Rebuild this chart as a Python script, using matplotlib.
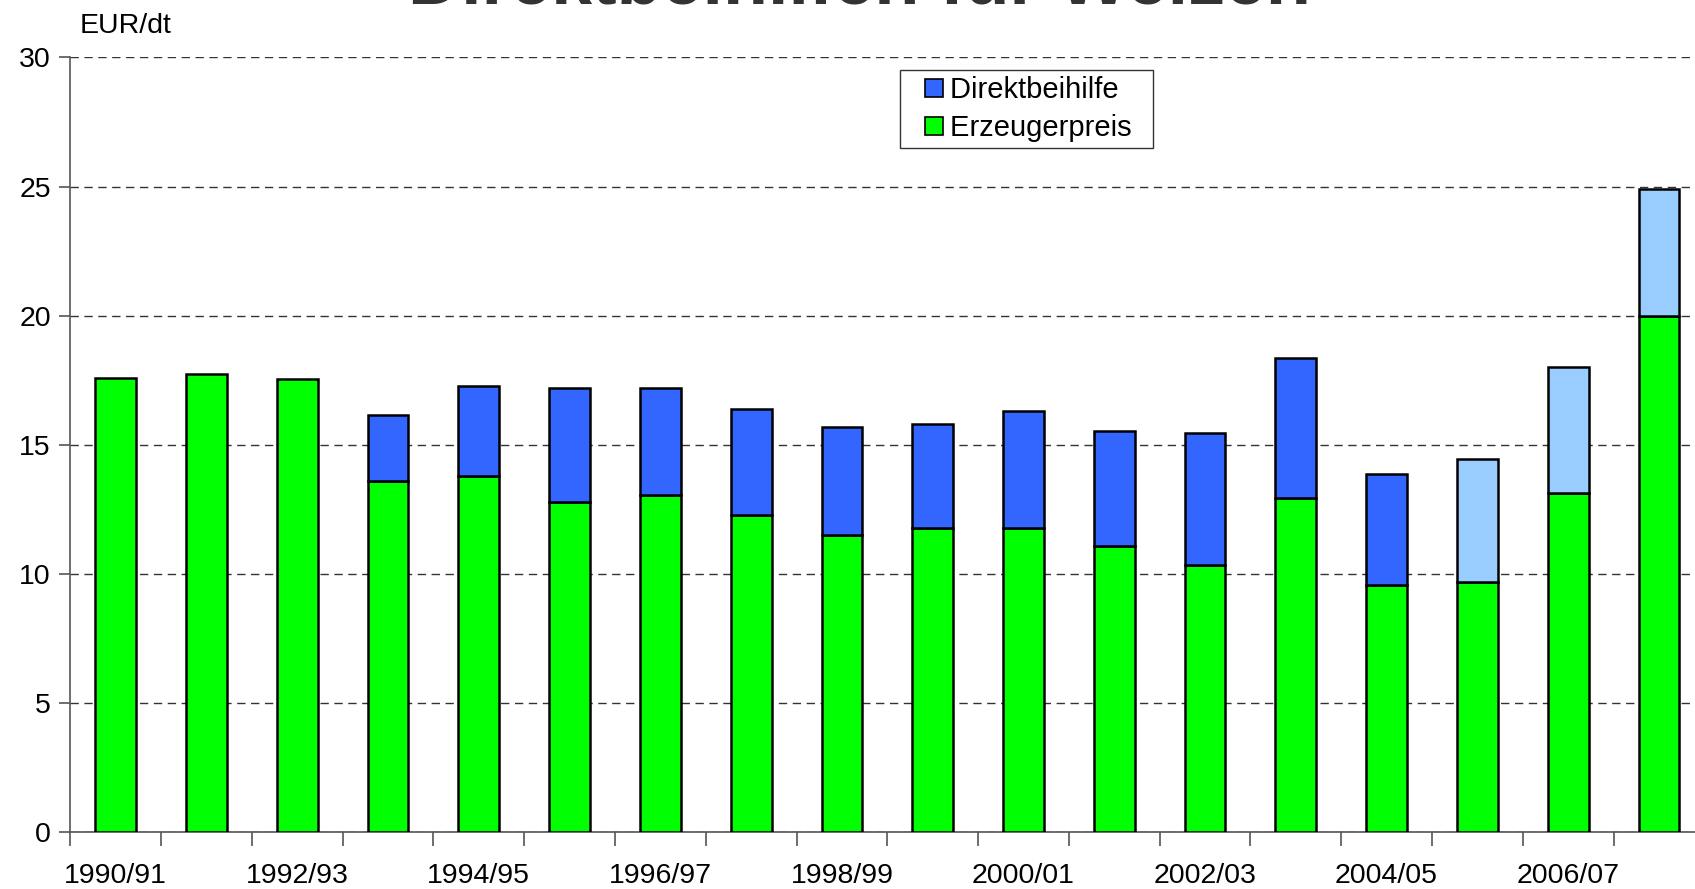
import numpy as np
import matplotlib.pyplot as plt
from matplotlib.lines import Line2D

plt.rcParams['font.family'] = ['Liberation Sans', 'DejaVu Sans']

# Wirtschaftsjahre
jahre = ["1990/91", "1991/92", "1992/93", "1993/94", "1994/95", "1995/96",
         "1996/97", "1997/98", "1998/99", "1999/00", "2000/01", "2001/02",
         "2002/03", "2003/04", "2004/05", "2005/06", "2006/07", "2007/08"]

# Erzeugerpreis (EUR/dt)
erzeugerpreis = [17.6, 17.75, 17.55, 13.6, 13.8, 12.78, 13.05, 12.27, 11.5,
                 11.8, 11.8, 11.07, 10.35, 12.93, 9.58, 9.7, 13.14, 20.0]

# Direktbeihilfe (EUR/dt), dunkel = gezahlt, hell = letzte Jahre
beihilfe = [0.0, 0.0, 0.0, 2.55, 3.48, 4.42, 4.15, 4.13, 4.2,
            4.02, 4.52, 4.45, 5.09, 5.44, 4.31, 4.74, 4.86, 4.9]
beihilfe_hell = [False] * 15 + [True, True, True]

GRUEN = "#00FF00"
BLAU = "#3366FF"
HELLBLAU = "#99CCFF"

fig = plt.figure(figsize=(16.95, 8.89), dpi=100)
ax = fig.add_axes([0.0415, 0.0637, 0.964, 0.8718])

x = np.arange(len(jahre))
breite = 0.45
ax.bar(x, erzeugerpreis, breite, color=GRUEN, edgecolor="black", linewidth=1.8, zorder=3)
farben = [HELLBLAU if h else BLAU for h in beihilfe_hell]
for i in range(len(jahre)):
    if beihilfe[i] > 0:
        ax.bar(x[i], beihilfe[i], breite, bottom=erzeugerpreis[i], color=farben[i],
               edgecolor="black", linewidth=1.8, zorder=3)

ax.set_xlim(-0.5, len(jahre) - 0.5)
ax.set_ylim(0, 30)
ax.set_yticks(np.arange(0, 31, 5))
ax.yaxis.grid(True, linestyle=(0, (6, 4)), color="#333333", linewidth=1.0, zorder=0)

ax.set_xticks(x[::2])
ax.set_xticklabels(jahre[::2])
ax.set_xticks(np.arange(-0.5, len(jahre), 1), minor=True)
ax.tick_params(axis="x", which="major", length=0, pad=22, labelsize=20.5)
ax.tick_params(axis="x", which="minor", length=10, width=1.2, color="#555555", direction="out")
ax.tick_params(axis="y", length=8, width=1.2, color="#555555", direction="out", labelsize=20.5, pad=6)

for s in ["top", "right"]:
    ax.spines[s].set_visible(False)
for s in ["left", "bottom"]:
    ax.spines[s].set_color("#555555")
    ax.spines[s].set_linewidth(1.2)

fig.text(0.047, 0.963, "EUR/dt", fontsize=20.5, ha="left", va="baseline")
fig.text(0.507, 1 - 4 / 889, "Direktbeihilfen für Weizen", fontsize=53,
         fontweight="bold", ha="center", va="baseline", color="#333333")

griffe = [Line2D([], [], linestyle="none", marker="s", markersize=13, markerfacecolor=BLAU,
                 markeredgecolor="black", markeredgewidth=1.2, label="Direktbeihilfe  "),
          Line2D([], [], linestyle="none", marker="s", markersize=13, markerfacecolor=GRUEN,
                 markeredgecolor="black", markeredgewidth=1.2, label="Erzeugerpreis  ")]
leg = ax.legend(handles=griffe, loc="upper left", bbox_to_anchor=(900 / 1695, 1 - 70 / 889),
                bbox_transform=fig.transFigure, fontsize=21, frameon=True, fancybox=False,
                edgecolor="black", handlelength=1.9, handletextpad=-0.4,
                labelspacing=0.35, borderpad=0.2, borderaxespad=0)
leg.get_frame().set_linewidth(1.0)

fig.savefig("out.png", dpi=100)
